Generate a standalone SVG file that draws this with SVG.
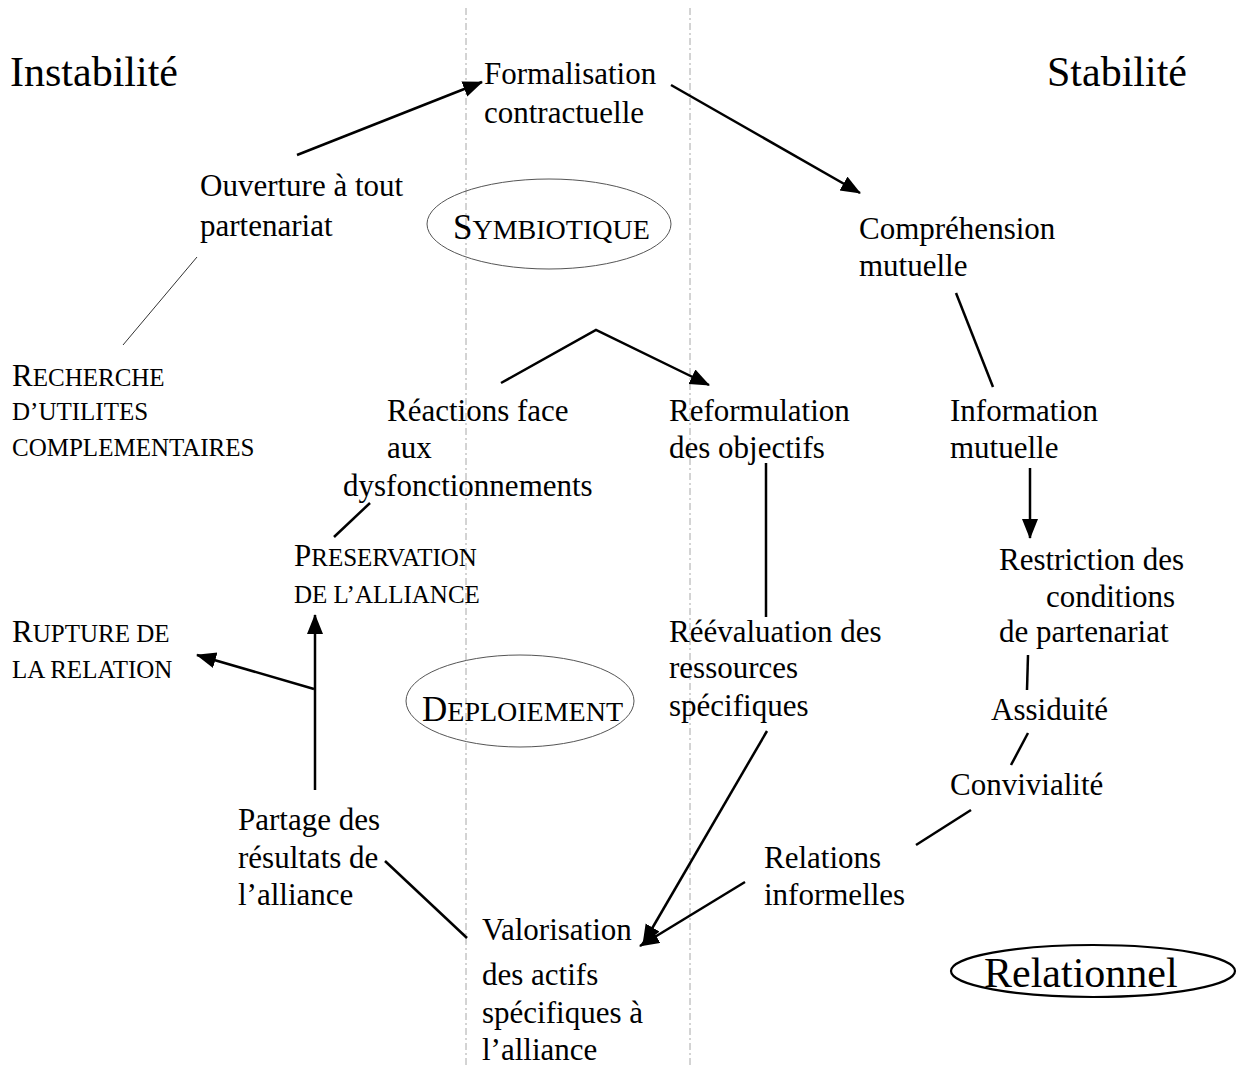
<svg xmlns="http://www.w3.org/2000/svg" width="1248" height="1066" viewBox="0 0 1248 1066">
  <defs>
    <marker id="arrow" markerUnits="userSpaceOnUse" markerWidth="22" markerHeight="18" refX="19" refY="8" orient="auto">
      <path d="M0,0 L20,8 L0,16 Z" fill="#000"/>
    </marker>
    <style>
      text { font-family: "Liberation Serif", "Times New Roman", serif; fill: #000; }
      .t { font-size: 31px; }
      .big { font-size: 42px; }
      .sc { font-size: 25px; }
      .cap { font-size: 31px; }
      .esc { font-size: 28px; }
      .ecap { font-size: 35px; }
      .zone { fill: none; stroke: #a8a8a8; stroke-width: 1; stroke-dasharray: 7 3 2 3; }
      .link { fill: none; stroke: #000; stroke-width: 2.5; }
      .thin { fill: none; stroke: #333; stroke-width: 1; }
      .arr { fill: none; stroke: #000; stroke-width: 2.5; marker-end: url(#arrow); }
    </style>
  </defs>
  <rect width="1248" height="1066" fill="#fff"/>

  <!-- zone separators -->
  <g id="zones">
    <line class="zone" x1="466" y1="8" x2="466" y2="1066"/>
    <line class="zone" x1="690" y1="8" x2="690" y2="1066"/>
  </g>

  <!-- connectors -->
  <g id="connectors">
    <line class="arr" x1="297" y1="155" x2="482" y2="82"/>
    <line class="arr" x1="671" y1="85" x2="860" y2="193"/>
    <line class="thin" x1="123" y1="345" x2="197" y2="257"/>
    <polyline class="arr" points="501,383 596,330 709,385"/>
    <line class="link" x1="956" y1="293" x2="993" y2="387"/>
    <line class="arr" x1="1030" y1="468" x2="1030" y2="538"/>
    <line class="link" x1="1028" y1="655" x2="1027" y2="690"/>
    <line class="link" x1="1028" y1="733" x2="1011" y2="765"/>
    <line class="link" x1="971" y1="810" x2="916" y2="845"/>
    <line class="arr" x1="745" y1="882" x2="640" y2="946"/>
    <line class="link" x1="766" y1="463" x2="766" y2="617"/>
    <line class="arr" x1="767" y1="731" x2="643" y2="944"/>
    <line class="link" x1="385" y1="861" x2="467" y2="938"/>
    <line class="arr" x1="315" y1="790" x2="315" y2="615"/>
    <line class="arr" x1="314" y1="689" x2="197" y2="655"/>
    <line class="link" x1="334" y1="537" x2="370" y2="503"/>
  </g>

  <!-- phase labels -->
  <g id="instabilite"><text class="big" x="10" y="86">Instabilité</text></g>
  <g id="stabilite"><text class="big" x="1047" y="86">Stabilité</text></g>

  <g id="symbiotique">
    <ellipse cx="549" cy="224" rx="122" ry="45" fill="none" stroke="#555" stroke-width="1"/>
    <text x="453" y="239"><tspan class="ecap">S</tspan><tspan class="esc">YMBIOTIQUE</tspan></text>
  </g>
  <g id="deploiement">
    <ellipse cx="520" cy="701" rx="114" ry="46" fill="none" stroke="#555" stroke-width="1"/>
    <text x="422" y="721"><tspan class="ecap">D</tspan><tspan class="esc">EPLOIEMENT</tspan></text>
  </g>
  <g id="relationnel">
    <ellipse cx="1093" cy="971" rx="142" ry="26" fill="none" stroke="#000" stroke-width="2.2"/>
    <text class="big" x="984" y="987">Relationnel</text>
  </g>

  <!-- nodes -->
  <g id="formalisation">
    <text class="t" x="484" y="84">Formalisation</text>
    <text class="t" x="484" y="123">contractuelle</text>
  </g>
  <g id="ouverture">
    <text class="t" x="200" y="196">Ouverture à tout</text>
    <text class="t" x="200" y="236">partenariat</text>
  </g>
  <g id="comprehension">
    <text class="t" x="859" y="239">Compréhension</text>
    <text class="t" x="859" y="276">mutuelle</text>
  </g>
  <g id="recherche">
    <text x="12" y="386"><tspan class="cap">R</tspan><tspan class="sc">ECHERCHE</tspan></text>
    <text class="sc" x="12" y="420">D’UTILITES</text>
    <text class="sc" x="12" y="456">COMPLEMENTAIRES</text>
  </g>
  <g id="reactions">
    <text class="t" x="387" y="421">Réactions face</text>
    <text class="t" x="387" y="458">aux</text>
    <text class="t" x="343" y="496">dysfonctionnements</text>
  </g>
  <g id="reformulation">
    <text class="t" x="669" y="421">Reformulation</text>
    <text class="t" x="669" y="458">des objectifs</text>
  </g>
  <g id="information">
    <text class="t" x="950" y="421">Information</text>
    <text class="t" x="950" y="458">mutuelle</text>
  </g>
  <g id="preservation">
    <text x="294" y="566"><tspan class="cap">P</tspan><tspan class="sc">RESERVATION</tspan></text>
    <text class="sc" x="294" y="603">DE L’ALLIANCE</text>
  </g>
  <g id="restriction">
    <text class="t" x="999" y="570">Restriction des</text>
    <text class="t" x="1046" y="607">conditions</text>
    <text class="t" x="999" y="642">de partenariat</text>
  </g>
  <g id="rupture">
    <text x="12" y="642"><tspan class="cap">R</tspan><tspan class="sc">UPTURE DE</tspan></text>
    <text class="sc" x="12" y="678">LA RELATION</text>
  </g>
  <g id="reevaluation">
    <text class="t" x="669" y="642">Réévaluation des</text>
    <text class="t" x="669" y="678">ressources</text>
    <text class="t" x="669" y="716">spécifiques</text>
  </g>
  <g id="assiduite"><text class="t" x="991" y="720">Assiduité</text></g>
  <g id="convivialite"><text class="t" x="950" y="795">Convivialité</text></g>
  <g id="partage">
    <text class="t" x="238" y="830">Partage des</text>
    <text class="t" x="238" y="868">résultats de</text>
    <text class="t" x="238" y="905">l’alliance</text>
  </g>
  <g id="relations">
    <text class="t" x="764" y="868">Relations</text>
    <text class="t" x="764" y="905">informelles</text>
  </g>
  <g id="valorisation">
    <text class="t" x="482" y="940">Valorisation</text>
    <text class="t" x="482" y="985">des actifs</text>
    <text class="t" x="482" y="1023">spécifiques à</text>
    <text class="t" x="482" y="1060">l’alliance</text>
  </g>
</svg>
